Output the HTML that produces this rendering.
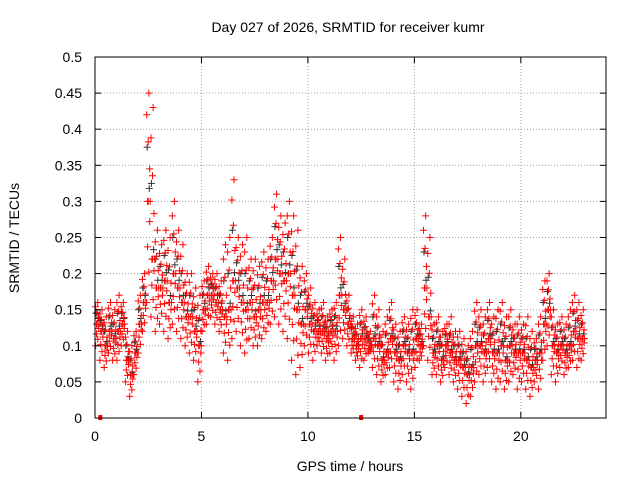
<!DOCTYPE html>
<html><head><meta charset="utf-8"><style>
body{margin:0;background:#fff;}
svg text{font-family:"Liberation Sans",sans-serif;font-size:14px;fill:#000;}
</style></head><body>
<svg id="chart" width="640" height="480" xmlns="http://www.w3.org/2000/svg">
<rect width="640" height="480" fill="#fff"/>
<text x="348" y="32" text-anchor="middle">Day 027 of 2026, SRMTID for receiver kumr</text>
<text x="350" y="471" text-anchor="middle">GPS time / hours</text>
<text transform="translate(19,238) rotate(-90)" text-anchor="middle">SRMTID / TECUs</text>
<g id="grid"></g>
<g id="marks"></g>
<rect x="95" y="57" width="511" height="361" fill="none" stroke="#000" stroke-width="1"/>
<g id="axes"></g>
</svg>
<script>
const xTicks=[0,5,10,15,20];
const yTicks=[0,0.05,0.1,0.15,0.2,0.25,0.3,0.35,0.4,0.45,0.5];
const yTickLabels=["0","0.05","0.1","0.15","0.2","0.25","0.3","0.35","0.4","0.45","0.5"];
const binStart=0, binStep=0.2;
const hiVals=[.16,.15,.14,.16,.15,.17,.16,.12,.10,.12,.17,.20,.45,.43,.26,.24,.26,.25,.30,.26,.24,.20,.20,.18,.17,.19,.21,.20,.20,.19,.24,.25,.33,.25,.24,.25,.22,.22,.21,.23,.22,.25,.31,.28,.27,.30,.28,.26,.21,.20,.18,.16,.15,.16,.14,.15,.16,.25,.22,.17,.14,.13,.15,.14,.12,.17,.15,.12,.14,.16,.13,.12,.14,.13,.15,.15,.13,.28,.25,.13,.14,.12,.13,.14,.12,.12,.11,.10,.12,.16,.15,.14,.16,.14,.15,.16,.14,.15,.13,.14,.13,.14,.12,.11,.14,.19,.20,.15,.13,.14,.13,.15,.17,.16,.15];
const midVals=[.13,.12,.10,.12,.11,.12,.13,.08,.06,.09,.13,.16,.30,.22,.18,.18,.19,.16,.20,.18,.16,.14,.14,.12,.10,.15,.17,.17,.16,.15,.14,.15,.19,.18,.16,.15,.16,.14,.15,.16,.16,.19,.22,.20,.19,.20,.17,.15,.13,.15,.13,.12,.12,.12,.11,.12,.12,.17,.15,.13,.11,.10,.11,.11,.10,.11,.10,.08,.09,.11,.09,.08,.10,.09,.09,.11,.10,.18,.14,.09,.10,.08,.10,.09,.08,.08,.07,.06,.07,.10,.10,.09,.11,.09,.09,.10,.08,.10,.09,.09,.09,.08,.07,.08,.09,.13,.15,.10,.09,.10,.09,.10,.12,.11,.11];
const loVals=[.10,.08,.07,.09,.08,.08,.10,.05,.03,.06,.09,.12,.16,.14,.12,.13,.12,.11,.13,.12,.11,.10,.09,.08,.05,.12,.13,.14,.13,.12,.09,.08,.11,.12,.10,.09,.11,.10,.10,.11,.12,.13,.14,.13,.12,.11,.08,.06,.07,.10,.09,.08,.10,.09,.08,.09,.08,.10,.11,.10,.09,.08,.07,.08,.09,.07,.06,.05,.06,.07,.05,.04,.06,.05,.04,.07,.08,.10,.08,.06,.06,.05,.07,.06,.05,.04,.03,.02,.03,.05,.06,.05,.07,.05,.04,.05,.04,.05,.06,.04,.05,.04,.03,.05,.04,.08,.10,.06,.05,.07,.06,.07,.08,.07,.08];
const zeroTimes=[0.25,12.5];
const NS="http://www.w3.org/2000/svg";
const X0=95,X1=606,Y0=418,Y1=57;
function xs(t){return X0+(t-0)/24*(X1-X0);}
function ys(v){return Y0-(v-0)/0.5*(Y0-Y1);}
const grid=document.getElementById('grid'),axes=document.getElementById('axes'),marks=document.getElementById('marks');
function line(p,x1,y1,x2,y2,st,da){const l=document.createElementNS(NS,'line');l.setAttribute('x1',x1);l.setAttribute('y1',y1);l.setAttribute('x2',x2);l.setAttribute('y2',y2);l.setAttribute('stroke',st);if(da)l.setAttribute('stroke-dasharray',da);p.appendChild(l);return l;}
yTicks.forEach((v,i)=>{const y=ys(v);
 if(i>0&&i<yTicks.length-1){const g=line(grid,X0,y,X1,y,'#a0a0a0','1,2');
 
 }
 line(axes,X0,y,X0+6,y,'#000');line(axes,X1,y,X1-6,y,'#000');
 const t=document.createElementNS(NS,'text');t.setAttribute('x',82);t.setAttribute('y',y+5);t.setAttribute('text-anchor','end');t.textContent=yTickLabels[i];
 
 
 axes.appendChild(t);});
xTicks.forEach(v=>{const x=xs(v);
 if(v>0){const g=line(grid,x,Y0,x,Y1,'#a0a0a0','1,2');
 
 }
 line(axes,x,Y0,x,Y0-6,'#000');line(axes,x,Y1,x,Y1+6,'#000');
 const t=document.createElementNS(NS,'text');t.setAttribute('x',x);t.setAttribute('y',Y0+23);t.setAttribute('text-anchor','middle');t.textContent=String(v);
 
 
 axes.appendChild(t);});
function plus(x,y,c){const p=document.createElementNS(NS,'path');p.setAttribute('d',`M${x-3.5} ${y}h7M${x} ${y-3.5}v7`);p.setAttribute('stroke',c);p.setAttribute('stroke-width','1');
 
 
 marks.appendChild(p);}
// black receiver series (partly hidden beneath red)
midVals.forEach((v,i)=>{const t=binStart+i*binStep;
 plus(xs(t+0.15),ys(v*1.06),'#333');
 plus(xs(t+0.05),ys((v+hiVals[i])/2),'#333');});
// red series: each bin rendered as a column of marks spanning lo..mid..hi
const fracs=[0,0.3,0.55,0.8,1];
const offs=[0.03,0.13,0.07,0.17,0.1];
midVals.forEach((m,i)=>{const t=binStart+i*binStep,lo=loVals[i],hi=hiVals[i];
 fracs.forEach((f,k)=>{
  plus(xs(t+offs[k]),ys(lo+(m-lo)*f),'#ff0000');
  plus(xs(t+offs[(k+2)%5]),ys(m+(hi-m)*f),'#ff0000');
 });
 plus(xs(t+0.19),ys(m),'#ff0000');
});
zeroTimes.forEach(t=>{const r=document.createElementNS(NS,'rect');r.setAttribute('x',xs(t)-2);r.setAttribute('y',Y0-3);r.setAttribute('width',4);r.setAttribute('height',5);r.setAttribute('fill','#ff0000');
 
 
 marks.appendChild(r);});
</script>
</body></html>
